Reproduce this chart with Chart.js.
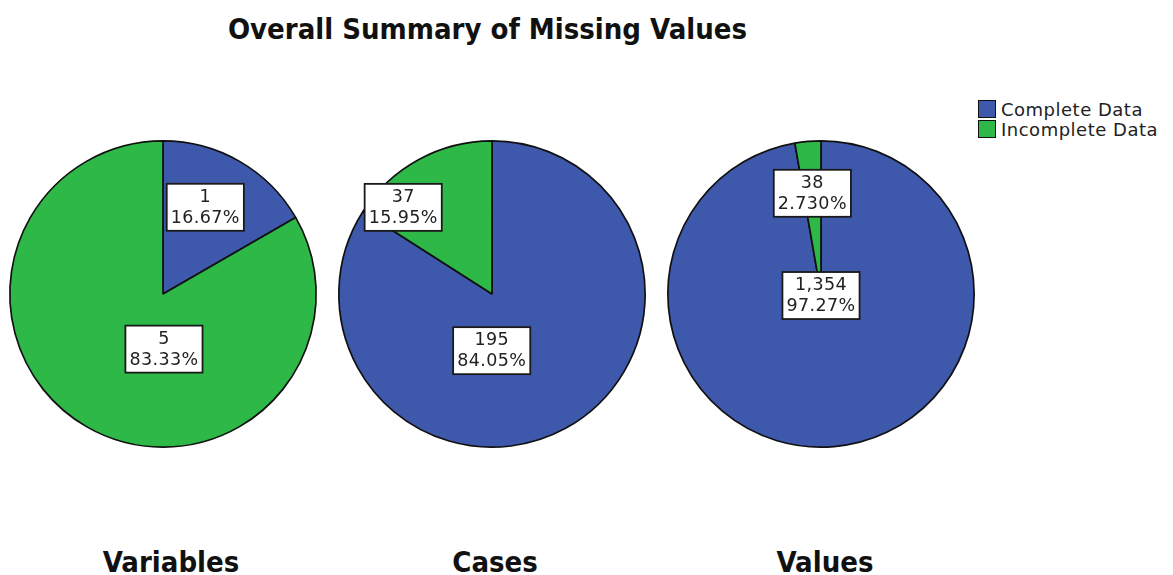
<!DOCTYPE html>
<html>
<head>
<meta charset="utf-8">
<script src="https://cdn.jsdelivr.net/npm/chart.js@4.4.1/dist/chart.umd.min.js"></script>
<style>
  html, body { margin: 0; padding: 0; background: #fff; }
  body { width: 1173px; height: 575px; position: relative; overflow: hidden; }
  .title, .panel-label {
    position: absolute;
    font-family: "Liberation Sans Narrow", "DejaVu Sans Condensed", "DejaVu Sans", sans-serif;
    font-stretch: condensed;
    font-weight: bold;
    color: #111;
    white-space: nowrap;
  }
  .title { left: 0; width: 975px; text-align: center; top: 11px; font-size: 29px; line-height: 36px; }
  .panel-label { top: 544px; width: 200px; text-align: center; font-size: 29px; line-height: 36px; }
  .pie { position: absolute; top: 134px; }
  .legend { position: absolute; left: 978px; top: 100px; font-family: "DejaVu Sans", sans-serif; font-size: 18px; letter-spacing: 0.5px; color: #222; }
  .legend div { height: 20px; line-height: 20px; white-space: nowrap; }
  .legend span.sw { display: inline-block; width: 18px; height: 18px; border: 1px solid #111; box-sizing: border-box; vertical-align: -2px; margin-right: 5px; }
</style>
</head>
<body>
<div class="title">Overall Summary of Missing Values</div>
<div class="legend" id="legend"></div>

<canvas id="pie0" class="pie" width="320" height="320" style="left:3px"></canvas>
<canvas id="pie1" class="pie" width="320" height="320" style="left:332px"></canvas>
<canvas id="pie2" class="pie" width="320" height="320" style="left:661px"></canvas>

<div class="panel-label" style="left:71px">Variables</div>
<div class="panel-label" style="left:395px">Cases</div>
<div class="panel-label" style="left:725px">Values</div>

<script>
// --- data ---
const categories = ['Complete Data', 'Incomplete Data'];
const panels = ['Variables', 'Cases', 'Values'];
const variablesCounts = [1, 5];
const casesCounts = [195, 37];
const valuesCounts = [1354, 38];

const sliceColors = ['#3E58AC', '#2EB848'];

// where each slice label sits: [angle shift from slice middle in degrees, fraction of radius]
const labelNudges = [
  [[-4, 0.63], [-31, 0.36]],
  [[29, 0.37], [-17, 0.81]],
  [[5, 0.01], [0, 0.66]]
];

// legend
const legendEl = document.getElementById('legend');
categories.forEach((name, i) => {
  const row = document.createElement('div');
  row.innerHTML = '<span class="sw" style="background:' + sliceColors[i] + '"></span>' + name;
  legendEl.appendChild(row);
});

// draws the white count / percent boxes on top of each slice
const sliceLabels = {
  id: 'sliceLabels',
  afterDatasetsDraw(chart, args, opts) {
    const ctx = chart.ctx;
    const meta = chart.getDatasetMeta(0);
    const values = chart.data.datasets[0].data;
    const total = values.reduce((a, b) => a + b, 0);
    ctx.save();
    ctx.font = '17.5px "DejaVu Sans", sans-serif';
    ctx.letterSpacing = '0.4px';
    ctx.textAlign = 'center';
    ctx.textBaseline = 'middle';
    meta.data.forEach((arc, i) => {
      const p = arc.getProps(['x', 'y', 'startAngle', 'endAngle', 'outerRadius'], true);
      const nudge = opts.nudges[i];
      const mid = (p.startAngle + p.endAngle) / 2 + nudge[0] * Math.PI / 180;
      const r = p.outerRadius * nudge[1];
      const cx = p.x + Math.cos(mid) * r;
      const cy = p.y + Math.sin(mid) * r;
      const lines = [values[i].toLocaleString('en-US'), (values[i] / total * 100).toPrecision(4) + '%'];
      const w = Math.max(...lines.map(t => ctx.measureText(t).width)) + 8;
      const h = 47;
      ctx.fillStyle = '#fff';
      ctx.fillRect(cx - w / 2, cy - h / 2, w, h);
      ctx.lineWidth = 1.8;
      ctx.strokeStyle = '#1a1a1a';
      ctx.strokeRect(cx - w / 2, cy - h / 2, w, h);
      ctx.fillStyle = '#222';
      ctx.fillText(lines[0], cx, cy - 10);
      ctx.fillText(lines[1], cx, cy + 11);
    });
    ctx.restore();
  }
};

function makePie(canvasId, counts, nudges) {
  return new Chart(document.getElementById(canvasId), {
    type: 'pie',
    data: {
      labels: categories,
      datasets: [{
        data: counts,
        backgroundColor: sliceColors,
        borderColor: '#111',
        borderWidth: 1.7
      }]
    },
    options: {
      responsive: false,
      animation: false,
      layout: { padding: 6 },
      plugins: {
        legend: { display: false },
        tooltip: { enabled: false },
        sliceLabels: { nudges: nudges }
      }
    },
    plugins: [sliceLabels]
  });
}

makePie('pie0', variablesCounts, labelNudges[0]);
makePie('pie1', casesCounts, labelNudges[1]);
makePie('pie2', valuesCounts, labelNudges[2]);
</script>
</body>
</html>
